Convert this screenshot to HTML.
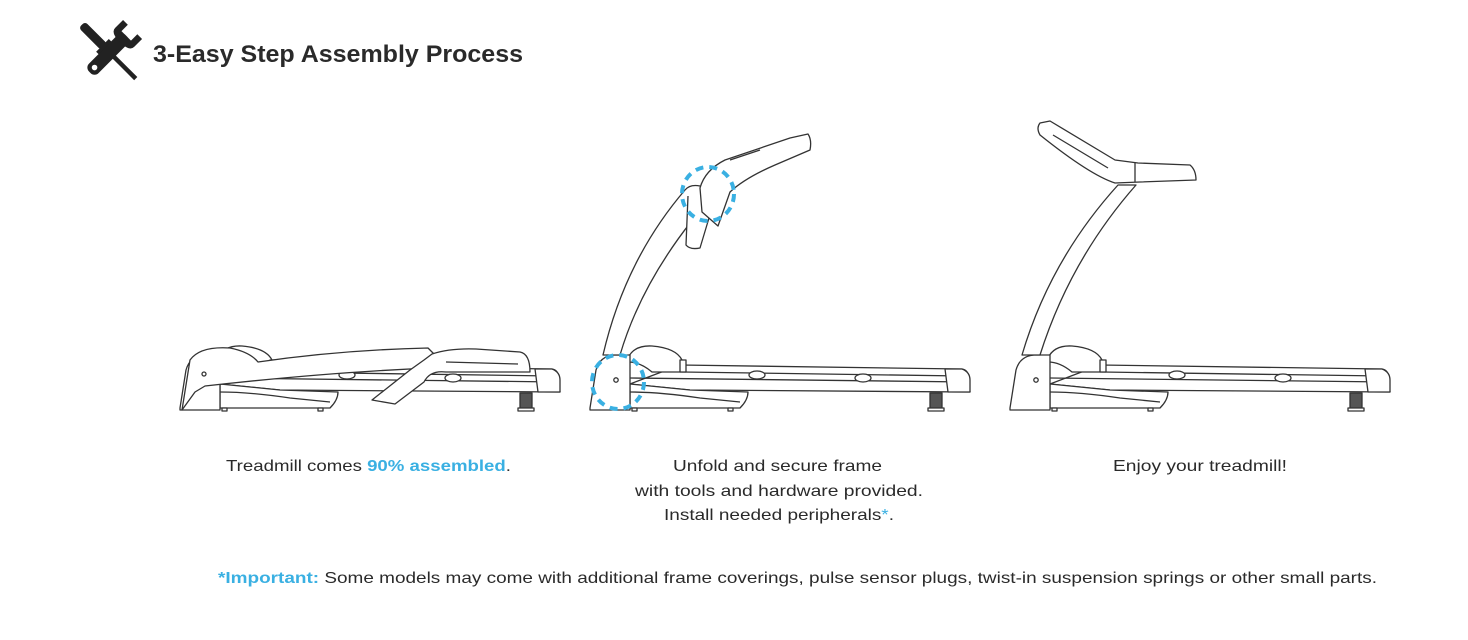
<!DOCTYPE html>
<html><head><meta charset="utf-8"><style>
html,body{margin:0;padding:0;background:#fff;}
svg{display:block}
text{font-family:"Liberation Sans",sans-serif;fill:#2a2a2a}
.b{fill:#3ab0e2}
</style></head><body>
<svg width="1468" height="640" viewBox="0 0 1468 640" xmlns="http://www.w3.org/2000/svg">
<defs>
<g id="base" fill="#fff" stroke="#333" stroke-width="1.3" stroke-linejoin="round">
  <path d="M90,365 L372,369 Q378,370 378,376 L380,392 L100,390 L40,384 Z"/>
  <path d="M92,372 L372,376" fill="none"/>
  <path d="M40,378 L378,382" fill="none"/>
  <ellipse cx="167" cy="375" rx="8" ry="4"/>
  <ellipse cx="273" cy="378" rx="8" ry="4"/>
  <path d="M355,369 L372,369 Q380,372 380,380 L380,392 L358,392 Z"/>
  <rect x="340" y="393" width="12" height="16" fill="#555"/>
  <rect x="338" y="408" width="16" height="3"/>
  <path d="M40,384 L40,408 L150,408 Q158,400 158,392 L100,390 Z"/>
  <path d="M40,392 Q70,392 110,398 L150,402" fill="none"/>
  <rect x="42" y="408" width="5" height="3"/>
  <rect x="138" y="408" width="5" height="3"/>
  <path d="M38,358 Q44,345 62,346 Q86,348 92,360 L92,372 L62,372 Q50,362 38,362 Z"/>
  <rect x="90" y="360" width="6" height="12"/>
  <path d="M0,408 L6,370 Q10,356 24,355 L40,355 L40,410 L0,410 Z"/>
  <circle cx="26" cy="380" r="2.2"/>
</g>
</defs>

<!-- Icon -->
<g transform="translate(76,20) scale(1.12)">
  <g transform="rotate(-45 30 29)">
    <rect x="26" y="-6" width="8" height="28" rx="3" fill="#222"/>
    <rect x="22" y="20" width="16" height="8" fill="#222"/>
    <rect x="28" y="28" width="4" height="34" fill="#222"/>
  </g>
  <g transform="rotate(45 30 29)">
    <rect x="24" y="8" width="12" height="46" rx="5" fill="#222"/>
    <path d="M18,0 L18,10 Q18,16 30,16 Q42,16 42,10 L42,0 L36,0 L36,8 L24,8 L24,0 Z" fill="#222"/>
    <circle cx="30" cy="48" r="2.5" fill="#fff"/>
  </g>
</g>
<text x="153" y="62" font-size="24" font-weight="bold" textLength="370" lengthAdjust="spacingAndGlyphs">3-Easy Step Assembly Process</text>

<!-- Treadmill 1 (folded) -->
<g transform="translate(180,0)">
  <use href="#base"/>
</g>
<g fill="#fff" stroke="#333" stroke-width="1.3" stroke-linejoin="round">
  <path d="M190,360 Q200,346 230,348 Q250,352 258,362 Q340,350 428,348 L436,356 L432,368 Q330,372 205,386 L195,392 L182,410 L190,360 Z"/>
  <path d="M432,354 Q450,348 476,349 L520,352 Q530,354 530,372 L446,372 Q430,370 424,382 L395,404 L372,400 L410,370 L424,360 Z"/>
  <path d="M446,362 L518,364" fill="none"/>
  <circle cx="204" cy="374" r="2"/>
</g>

<!-- Treadmill 2 -->
<g transform="translate(590,0)"><use href="#base"/></g>
<g fill="#fff" stroke="#333" stroke-width="1.3" stroke-linejoin="round">
  <path d="M603,355 Q625,260 685,190 Q690,184 700,186 L718,190 Q645,270 620,355 Z"/>
  <path d="M688,196 L686,245 Q690,250 700,248 L712,208" fill="#fff"/>
  <path d="M700,188 Q705,170 725,160 L790,138 L808,134 Q812,140 810,150 L775,165 Q745,178 730,192 L718,226 L702,212 Z"/>
  <path d="M730,160 L760,150" fill="none"/>
</g>
<g fill="none" stroke="#3ab0e2" stroke-width="4" stroke-dasharray="8 6">
  <ellipse cx="708" cy="194" rx="26" ry="27"/>
  <ellipse cx="618" cy="382" rx="26" ry="27"/>
</g>

<!-- Treadmill 3 -->
<g transform="translate(1010,0)"><use href="#base"/></g>
<g fill="#fff" stroke="#333" stroke-width="1.3" stroke-linejoin="round">
  <path d="M1022,355 Q1050,260 1118,185 L1136,185 Q1070,260 1040,355 Z"/>
  <path d="M1040,123 L1050,121 L1115,160 L1138,163 L1190,165 Q1196,170 1196,180 L1140,182 L1115,183 Q1090,175 1040,135 Q1036,128 1040,123 Z"/>
  <path d="M1053,135 L1108,168" fill="none"/>
  <path d="M1135,163 L1135,182" fill="none"/>
</g>

<!-- Captions -->
<text x="226" y="471" font-size="16" textLength="285" lengthAdjust="spacingAndGlyphs">Treadmill comes <tspan class="b" font-weight="bold">90% assembled</tspan>.</text>
<text x="673" y="471" font-size="16" textLength="209" lengthAdjust="spacingAndGlyphs">Unfold and secure frame</text>
<text x="635" y="496" font-size="16" textLength="288" lengthAdjust="spacingAndGlyphs">with tools and hardware provided.</text>
<text x="664" y="520" font-size="16" textLength="230" lengthAdjust="spacingAndGlyphs">Install needed peripherals<tspan class="b">*</tspan>.</text>
<text x="1113" y="471" font-size="16" textLength="174" lengthAdjust="spacingAndGlyphs">Enjoy your treadmill!</text>

<text x="218" y="583" font-size="16" textLength="1159" lengthAdjust="spacingAndGlyphs"><tspan class="b" font-weight="bold">*Important:</tspan> Some models may come with additional frame coverings, pulse sensor plugs, twist-in suspension springs or other small parts.</text>
</svg>
</body></html>
